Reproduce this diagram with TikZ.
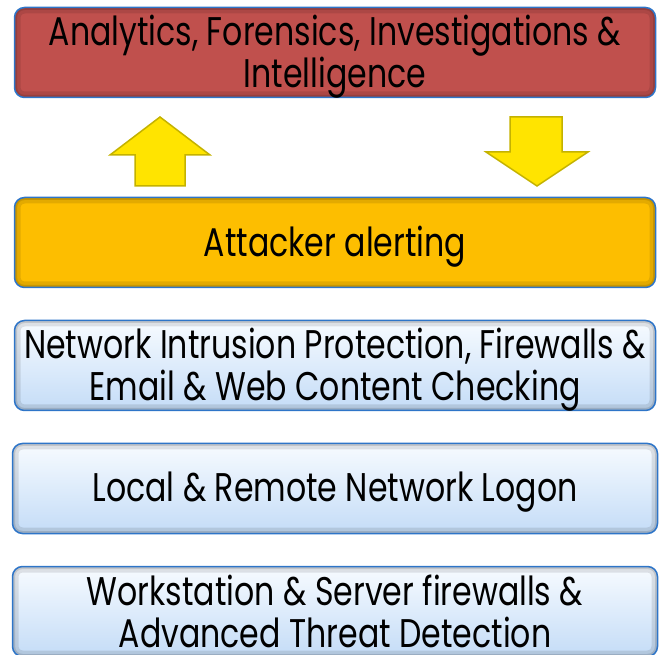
\documentclass[tikz,border=0pt]{standalone}
\usepackage{fontspec}
\setmainfont{Poppins}[FakeStretch=0.79]
\usepackage{xcolor}

\definecolor{layerRed}{RGB}{192,80,77}
\definecolor{layerGold}{RGB}{253,190,0}
\definecolor{layerLine}{RGB}{46,117,200}
\definecolor{skyTop}{RGB}{247,251,255}
\definecolor{skyBot}{RGB}{196,220,247}
\definecolor{arrowFill}{RGB}{255,228,0}
\definecolor{arrowLine}{RGB}{196,178,0}

\tikzset{
  layer/.style={draw=layerLine, line width=1.5pt, rounded corners=10pt,
    minimum width=641pt, minimum height=90pt, inner sep=0pt,
    path picture={
      \draw[rounded corners=10pt, line width=12pt, black, opacity=0.10]
        (path picture bounding box.south west) rectangle (path picture bounding box.north east);
      \draw[rounded corners=10pt, line width=5pt, black, opacity=0.12]
        (path picture bounding box.south west) rectangle (path picture bounding box.north east);
    }},
  sky/.style={layer, top color=skyTop, bottom color=skyBot},
  tag/.style={align=center, inner sep=0pt, yshift=-4pt,
    font=\fontsize{40}{42}\selectfont},
  blockarrow/.style={fill=arrowFill, draw=arrowLine, line width=1.5pt}
}

\begin{document}
\begin{tikzpicture}[x=1pt, y=-1pt]
  \useasboundingbox (0,0) rectangle (665,655);

  \begin{scope}
    \node[layer, fill=layerRed]  (intel)  at (335,52.5)  {};
    \node[layer, fill=layerGold] (alert)  at (335,242.5) {};
    \node[sky]                   (nips)   at (335,365.5) {};
    \node[sky, minimum width=645pt] (logon) at (335,488.5) {};
    \node[sky, minimum width=645pt] (host)  at (335,611.5) {};
  \end{scope}

  \begin{scope}[every node/.style={tag}]
    \node (intelText) at (intel) {Analytics, Forensics, Investigations \&\\Intelligence};
    \node (alertText) at (alert) {Attacker alerting};
    \node (nipsText)  at (nips)  {Network Intrusion Protection, Firewalls \&\\Email \& Web Content Checking};
    \node (logonText) at (logon) {Local \& Remote Network Logon};
    \node[yshift=4pt] (hostText) at (host) {Workstation \& Server firewalls \&\\Advanced Threat Detection};
  \end{scope}

  % block arrows between alerting and intelligence
  \begin{scope}
    \draw[blockarrow] (135,186) -- (135,155) -- (110,155) -- (160,117)
                      -- (210,155) -- (185,155) -- (185,186) -- cycle;
    \draw[blockarrow] (510,117) -- (562,117) -- (562,152) -- (588,152)
                      -- (537,186) -- (486,152) -- (510,152) -- cycle;
  \end{scope}
\end{tikzpicture}
\end{document}
